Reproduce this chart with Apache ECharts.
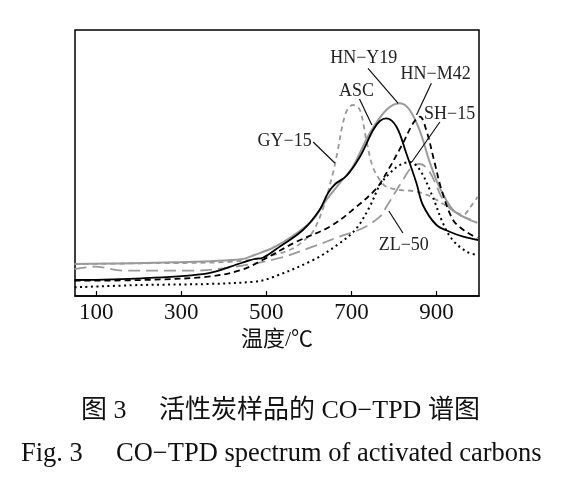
<!DOCTYPE html>
<html><head><meta charset="utf-8">
<script src="https://cdn.jsdelivr.net/npm/echarts@6/dist/echarts.min.js"></script>
<style>html,body{margin:0;padding:0;background:#fff}#c{width:573px;height:487px}</style>
</head><body><div id="c"></div>
<script>
// Temperature (°C) / CO signal (arbitrary units) pairs
const ascX = [49,207,362,441,472,492,531,586,625,645,662,688,720,751,767,782,806,829,853,868,900,931,963,998];
const ascY = [16,17.7,22.7,33,37,38.3,49.3,66,86,103,112,120,139.3,166,175,177.7,169.3,142.7,112.7,91,71,64.3,59.3,56];

const hny19X = [49,284,441,472,519,571,609,641,672,703,743,782,814,837,861,884,908,939,971,996];
const hny19Y = [32,33.7,36.7,41,49,62.7,76,96,112.7,129,162.7,186,192.7,186,165,134,108,86,77.7,73.3];

const hnm42X = [49,207,362,441,491,571,649,712,759,782,821,845,861,876,896,912,939,967,996];
const hnm42Y = [15.3,16,19.3,26,36,54.3,69.3,89.3,107.7,122.7,152.7,172.7,179.3,166,132.7,106,76,65,58];

const sh15X = [49,207,362,472,508,610,672,712,743,767,790,814,837,861,891,915,938,971,997];
const sh15Y = [8.7,11,12,14.3,17.7,36,52.7,67.7,89.3,111,122.7,131,134,126,99.3,73,56,44.3,41];

const zl50X = [49,96,167,324,425,531,609,672,727,767,782,821,842,861,884,916,947,995];
const zl50Y = [27,29.3,25.3,25.3,29.3,38,49.3,59.3,68,79.3,89,116,129,132,124,96,82.7,74.3];

const gy15X = [49,207,409,484,555,590,609,632,656,668,680,691,704,720,735,750,767,782,814,844,884,931,963,978,997];
const gy15Y = [32,32.7,34,38,46,56,64,86,122,146,172.7,187,191,186,156,129.3,116,109.3,106,105,100,88,81,88,99.3];

const tickValues = [100,300,500,700,900];
const seriesNames = ['ASC','HN−Y19','HN−M42','SH−15','ZL−50','GY−15'];

// label annotations: [name, textX, textY, lineFromX, lineFromY, lineToX, lineToY] in data units
const labelNotes = [
  ['HN−Y19', 729, 238, 739, 227.7, 810, 192.7],
  ['HN−M42', 898, 222, 888, 212.7, 853, 181],
  ['ASC',    712, 205, 719, 197, 748, 171],
  ['SH−15',  931, 182, 908, 174, 842, 134],
  ['GY−15',  543, 155, 610, 154, 661, 133],
  ['ZL−50',  823, 51, 821, 63, 788, 85]
];

const zip = (xs, ys) => xs.map((x, i) => [x, ys[i]]);
const SERIF = '"Liberation Serif","Times New Roman","Noto Sans CJK SC",serif';
const GRAY = '#9a9a9a';

const chart = echarts.init(document.getElementById('c'), null, {renderer: 'canvas'});
const mk = (name, xs, ys, color, type, width) => ({
  name, type: 'line', data: zip(xs, ys), smooth: 0.35, symbol: 'none',
  lineStyle: {color, width, type}, silent: true, animation: false
});

chart.setOption({
  animation: false,
  backgroundColor: '#fff',
  grid: {left: 75, right: 94, top: 30, bottom: 191, show: true, borderColor: '#000', borderWidth: 1.5},
  xAxis: {
    type: 'value', min: 50, max: 1000,
    name: '温度/℃', nameLocation: 'middle', nameGap: 29,
    nameTextStyle: {fontFamily: SERIF, fontSize: 22, color: '#111'},
    axisLine: {show: true, lineStyle: {color: '#000', width: 1.5}},
    axisTick: {show: true, inside: true, length: 5, customValues: tickValues, lineStyle: {color: '#000', width: 1.2}},
    axisLabel: {customValues: tickValues, margin: 5, fontFamily: SERIF, fontSize: 23, color: '#111'},
    splitLine: {show: false}
  },
  yAxis: {
    type: 'value', min: 0, max: 266,
    axisLine: {show: false}, axisTick: {show: false}, axisLabel: {show: false}, splitLine: {show: false}
  },
  title: [
    {text: '图 3　 活性炭样品的 CO−TPD 谱图', left: 76, top: 393,
      textStyle: {fontFamily: SERIF, fontSize: 26, fontWeight: 'normal', color: '#111'}},
    {text: 'Fig. 3　 CO−TPD spectrum of activated carbons', left: 16, top: 436,
      textStyle: {fontFamily: SERIF, fontSize: 26.5, fontWeight: 'normal', color: '#111'}}
  ],
  series: [
    mk(seriesNames[4], zl50X, zl50Y, GRAY, [12, 6], 1.8),
    mk(seriesNames[5], gy15X, gy15Y, GRAY, [5, 4], 1.8),
    mk(seriesNames[1], hny19X, hny19Y, GRAY, 'solid', 2),
    mk(seriesNames[3], sh15X, sh15Y, '#000', [2, 3.5], 2),
    mk(seriesNames[2], hnm42X, hnm42Y, '#000', [6, 4], 1.8),
    mk(seriesNames[0], ascX, ascY, '#000', 'solid', 1.8)
  ]
});

const graphics = [];
labelNotes.forEach(n => {
  const t = chart.convertToPixel({gridIndex: 0}, [n[1], n[2]]);
  const a = chart.convertToPixel({gridIndex: 0}, [n[3], n[4]]);
  const b = chart.convertToPixel({gridIndex: 0}, [n[5], n[6]]);
  graphics.push({type: 'line', shape: {x1: a[0], y1: a[1], x2: b[0], y2: b[1]},
    style: {stroke: '#111', lineWidth: 1.2}, silent: true, z: 10});
  graphics.push({type: 'text', x: t[0], y: t[1],
    style: {text: n[0], fill: '#222', font: '18px ' + SERIF, align: 'center', verticalAlign: 'middle'}, z: 10});
});
chart.setOption({graphic: graphics});
</script></body></html>
